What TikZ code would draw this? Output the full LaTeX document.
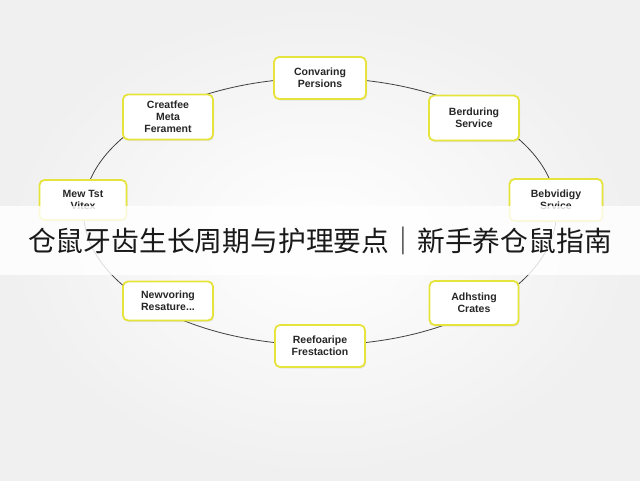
\documentclass[tikz,border=0pt]{standalone}
\usepackage{fontspec}
\setmainfont{Liberation Sans}
\newfontfamily\cjk{Noto Sans CJK SC}
\usetikzlibrary{shadows}
\definecolor{ybord}{HTML}{E6E43C}
\begin{document}
\begin{tikzpicture}[x=1pt,y=-1pt,
  box/.style={draw=ybord,line width=1.8pt,fill=white,rounded corners=5pt,
    minimum width=#1,align=center,font=\bfseries\fontsize{10.5}{12}\selectfont,
    text=black!85,inner sep=3pt,drop shadow={opacity=0.15,shadow xshift=1pt,shadow yshift=-1.5pt}},
  box/.default=90pt]
\useasboundingbox (0,0) rectangle (640,480);
\shade[inner color=white,outer color=black!6] (0,0) rectangle (640,480);
\draw[black!75,line width=0.8pt] (320,211.5) ellipse [x radius=236.5,y radius=133.5];
\node[box=92pt,minimum height=42pt] (a) at (320,78) {Convaring\\Persions};
\node[box=90pt,minimum height=45pt] (b) at (474,118) {Berduring\\Service};
\node[box=93pt,minimum height=42pt] (c) at (556,200) {Bebvidigy\\Srvice};
\node[box=89pt,minimum height=44pt] (d) at (474,303) {Adhsting\\Crates};
\node[box=90pt,minimum height=42pt] (e) at (320,346) {Reefoaripe\\Frestaction};
\node[box=90pt,minimum height=39pt] (f) at (168,301) {Newvoring\\Resature...};
\node[box=87pt,minimum height=40pt] (g) at (83,200) {Mew Tst\\Vitex};
\node[box=90pt,minimum height=45pt] (h) at (168,117) {Creatfee\\Meta\\Ferament};
\fill[white,opacity=0.82] (0,206) rectangle (640,275);
\node[font=\cjk\fontsize{27.8}{30}\selectfont,text=black!90] (t) at (320,241) {仓鼠牙齿生长周期与护理要点｜新手养仓鼠指南};
\end{tikzpicture}
\end{document}
